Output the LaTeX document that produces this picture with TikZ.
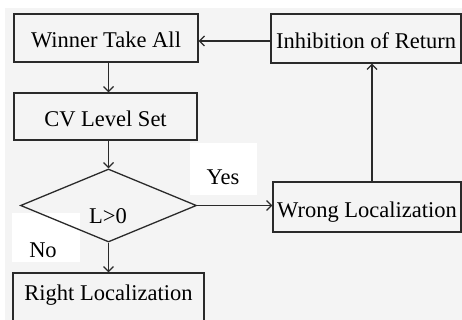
\documentclass[tikz,border=0pt]{standalone}
\usepackage{fontspec}
\setmainfont{Liberation Serif}
\usetikzlibrary{arrows.meta,shapes.geometric}
\definecolor{bg}{HTML}{F4F4F4}
\definecolor{ln}{HTML}{2A2A2A}
\begin{document}
\begin{tikzpicture}[x=1pt,y=-1pt,
  box/.style={draw=ln, line width=1.3pt, inner sep=0pt, text=black,
    font=\fontsize{22.5}{25}\selectfont, text height=21pt, text depth=1pt},
  arr/.style={draw=ln, line width=1.2pt, -{Straight Barb[length=5pt,width=10pt,line width=1.2pt]}},
  lbl/.style={font=\fontsize{22.5}{25}\selectfont, inner sep=0pt, anchor=base},
  patch/.style={fill=white, draw=none}]
\useasboundingbox (0,0) rectangle (462,320);
\fill[bg] (5,8) rectangle (462,320);
\fill[patch] (190,143) rectangle (257,195);
\fill[patch] (12,213) rectangle (80,262);
% boxes
\node[box, minimum width=184pt, minimum height=48pt] (win) at (106,38) {Winner Take All};
\node[box, minimum width=183pt, minimum height=47pt] (cv) at (105.5,116.5) {CV Level Set};
\node[box, minimum width=190pt, minimum height=49pt] (inh) at (366,38.5) {Inhibition of Return};
\node[box, minimum width=188pt, minimum height=50pt] (wrong) at (367,207) {Wrong Localization};
\node[box, minimum width=191pt, minimum height=54pt, text height=12pt, text depth=12pt] (right) at (108.5,300) {Right Localization};
\node[diamond, draw=ln, line width=1.3pt, minimum width=176pt, minimum height=73pt, inner sep=0pt] (dia) at (108.5,205.5) {};
% labels
\node[lbl] (ltxt) at (108,223) {L>0};
\node[lbl] (yes) at (223,184) {Yes};
\node[lbl] (no) at (43,257) {No};
% connectors
\draw[arr] (win.south -| dia.north) -- (cv.north -| dia.north);
\draw[arr] (cv.south -| dia.north) -- (dia.north);
\draw[arr] (dia.south) -- (right.north -| dia.south);
\draw[arr] (dia.east) -- (dia.east -| wrong.west);
\draw[arr] ([xshift=5pt]wrong.north) -- ([xshift=5pt]wrong.north |- inh.south);
\draw[arr] ([yshift=-2.5pt]inh.west) -- ([yshift=-2.5pt]inh.west -| win.east);
\end{tikzpicture}
\end{document}
